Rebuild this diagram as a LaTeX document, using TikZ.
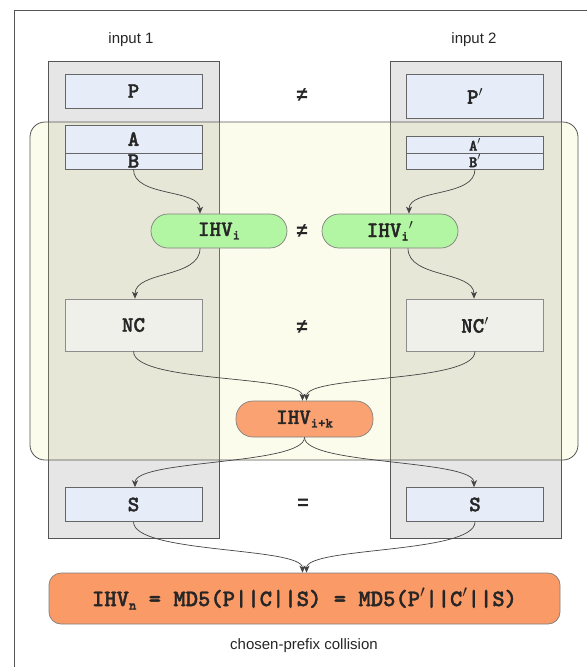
\documentclass[tikz,border=0pt]{standalone}
\usepackage{fontspec}
\setmainfont{Liberation Sans}
\newfontfamily\courb[FakeBold=1.6]{lmmonolt10-bold.otf}
\newfontfamily\relfont{Liberation Mono}
\usetikzlibrary{arrows.meta}
\definecolor{frameln}{HTML}{555555}
\definecolor{colgray}{HTML}{E6E6E6}
\definecolor{boxblue}{HTML}{E6EDF8}
\definecolor{ncfill}{HTML}{EEF0E9}
\definecolor{pillgreen}{HTML}{B2F5A2}
\definecolor{pillorange}{HTML}{FBA272}
\definecolor{bigorange}{HTML}{FA9A66}
\definecolor{yel}{RGB}{242,242,149}
\definecolor{lnk}{HTML}{444444}
\newcommand{\mysub}[1]{\raisebox{-3.5pt}{\fontsize{14}{14}\selectfont #1}}
\newcommand{\pr}{\ensuremath{'}}
\tikzset{
  x=1pt, y=-1pt,
  monotext/.style={font=\courb\fontsize{22}{22}\selectfont, text=black!85},
  colbox/.style={draw=frameln, fill=colgray, line width=0.7pt},
  bluebox/.style={draw=black!60, fill=boxblue, line width=0.7pt, minimum width=137pt, inner sep=0pt, monotext},
  ncbox/.style={draw=black!45, fill=ncfill, line width=0.7pt, minimum width=137pt, minimum height=52pt, inner sep=0pt, monotext},
  greenpill/.style={draw=black!50, fill=pillgreen, line width=0.7pt, rounded corners=17pt, minimum width=136pt, minimum height=34pt, inner sep=0pt, monotext},
  orangepill/.style={draw=black!50, fill=pillorange, line width=0.7pt, rounded corners=17pt, minimum width=137pt, minimum height=36pt, inner sep=0pt, monotext},
  rel/.style={font=\relfont\bfseries\fontsize{20}{20}\selectfont, text=black!85},
  lbl/.style={font=\fontsize{15}{15}\selectfont, text=black!85},
  link/.style={draw=lnk, line width=0.7pt, -{Stealth[length=7pt,width=6pt,inset=2pt]}},
}
\begin{document}
\begin{tikzpicture}
\useasboundingbox (0,0) rectangle (587,667);
\fill[white] (0,0) rectangle (587,667);
% outer frame
\draw[frameln, line width=0.8pt] (14,667) -- (14,10) -- (587,10);
% gray columns
\draw[colbox] (48,61) rectangle (219,538);
\draw[colbox] (390,61) rectangle (561,538);
% yellow region
\fill[yel, fill opacity=0.16, rounded corners=15pt] (30,122) rectangle (578,460);
\draw[frameln, line width=0.8pt, rounded corners=15pt] (30,122) rectangle (578,460);
% labels
\node[lbl] (in1) at (131,40) {input 1};
\node[lbl] (in2) at (474,40) {input 2};
\node[lbl] (cap) at (304,646) {chosen-prefix collision};
% boxes
\node[bluebox, minimum height=34pt] (P) at (133.5,91) {P};
\node[bluebox, minimum height=44pt] (Pp) at (475,96) {P\pr};
\node[bluebox, minimum height=28pt] (A) at (133.5,139) {A};
\node[bluebox, minimum height=16pt] (B) at (133.5,161) {B};
\node[bluebox, minimum height=17pt, font=\courb\fontsize{16}{16}\selectfont] (Ap) at (475,144.5) {A\pr};
\node[bluebox, minimum height=16pt, font=\courb\fontsize{16}{16}\selectfont] (Bp) at (475,161) {B\pr};
\node[greenpill] (ihvi) at (219,231) {IHV\mysub{i}};
\node[greenpill] (ihvip) at (390,231) {IHV\mysub{i}\pr};
\node[ncbox] (nc) at (133.5,325) {NC};
\node[ncbox] (ncp) at (475,325) {NC\pr};
\node[orangepill] (ihvk) at (304.5,419) {IHV\mysub{i+k}};
\node[bluebox, minimum height=34pt] (S) at (133.5,504.5) {S};
\node[bluebox, minimum height=34pt] (Sp) at (475,504.5) {S};
\node[draw=black!50, fill=bigorange, line width=0.7pt, rounded corners=12pt, minimum width=511pt, minimum height=51pt, inner sep=0pt, monotext, font=\courb\fontsize{23.5}{23.5}\selectfont] (big) at (304.5,598.5) {IHV\mysub{n} = MD5(P||C||S) = MD5(P\pr||C\pr||S)};
% relations
\node[rel] (ne1) at (302,95) {≠};
\node[rel] (ne2) at (302,231) {≠};
\node[rel] (ne3) at (302,327) {≠};
\node[rel] (eq1) at (303,504) {=};
% links
\draw[link] (B.south) .. controls +(0,28) and +(0,-25) .. ([xshift=-19pt]ihvi.north);
\draw[link] (Bp.south) .. controls +(0,28) and +(0,-25) .. ([xshift=19pt]ihvip.north);
\draw[link] ([xshift=-19pt]ihvi.south) .. controls +(0,30) and +(0,-28) .. ([xshift=1.5pt]nc.north);
\draw[link] ([xshift=18pt]ihvip.south) .. controls +(0,30) and +(0,-28) .. ([xshift=-1pt]ncp.north);
\draw[link] (nc.south) .. controls +(0,32) and +(0,-26) .. ([xshift=-2pt]ihvk.north);
\draw[link] (ncp.south) .. controls +(0,32) and +(0,-26) .. ([xshift=2pt]ihvk.north);
\draw[link] (ihvk.south) .. controls +(0,28) and +(0,-28) .. ([xshift=1.5pt]S.north);
\draw[link] (ihvk.south) .. controls +(0,28) and +(0,-28) .. ([xshift=-1pt]Sp.north);
\draw[link] (S.south) .. controls +(0,32) and +(0,-26) .. ([xshift=-2pt]big.north);
\draw[link] (Sp.south) .. controls +(0,32) and +(0,-26) .. ([xshift=2pt]big.north);
\end{tikzpicture}
\end{document}
